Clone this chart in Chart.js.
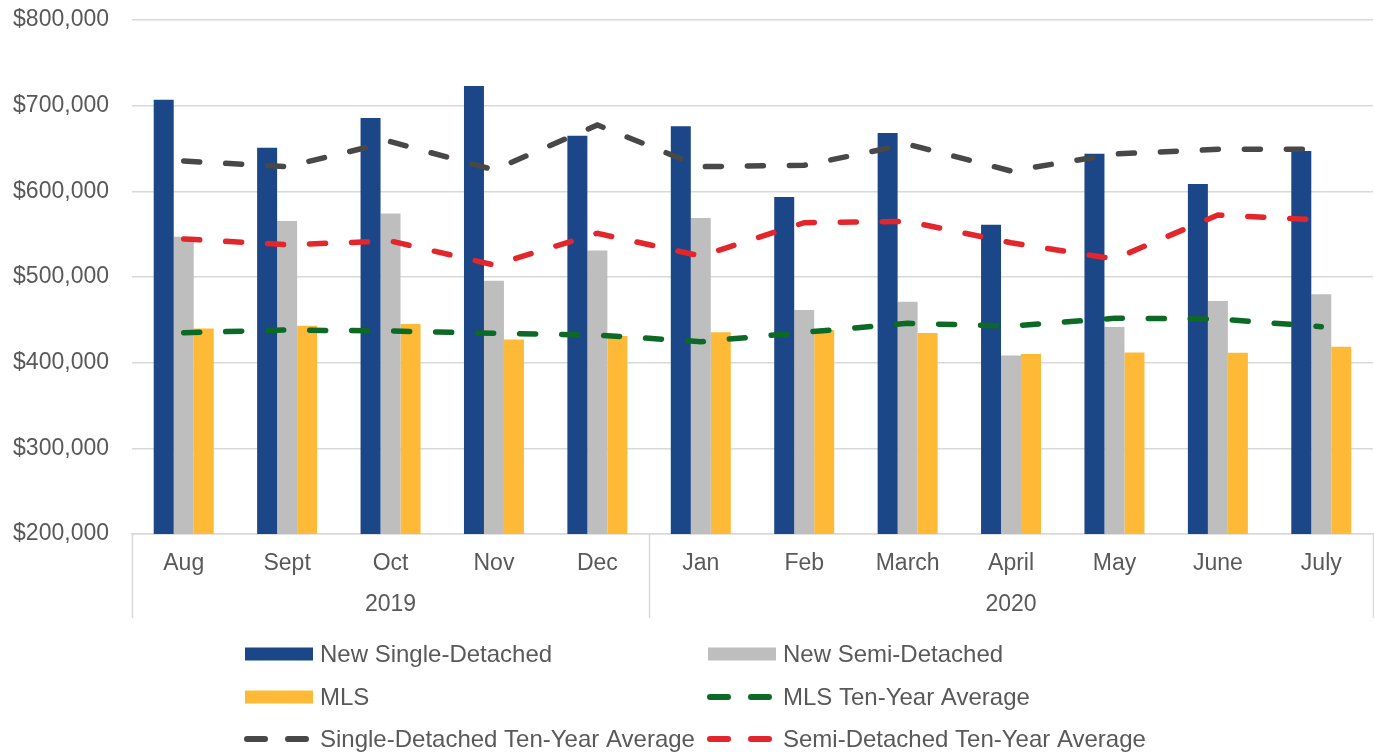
<!DOCTYPE html>
<html>
<head>
<meta charset="utf-8">
<script src="https://cdn.jsdelivr.net/npm/chart.js@4/dist/chart.umd.min.js"></script>
<style>
  html, body { margin: 0; padding: 0; background: #ffffff; }
  #wrap { width: 1374px; height: 752px; position: relative; }
</style>
</head>
<body>
<div id="wrap"><canvas id="c" width="1374" height="752"></canvas></div>
<script>
// ---- Data ----
const months = ['Aug', 'Sept', 'Oct', 'Nov', 'Dec', 'Jan', 'Feb', 'March', 'April', 'May', 'June', 'July'];
const years = ['2019', '2019', '2019', '2019', '2019', '2020', '2020', '2020', '2020', '2020', '2020', '2020'];
const newSingleDetached = [707000, 651000, 685500, 723000, 665000, 676000, 593500, 668000, 561000, 644000, 608500, 647000];
const newSemiDetached = [547000, 565500, 574000, 495500, 531000, 569000, 461500, 471000, 408500, 441500, 472000, 480000];
const mls = [440000, 443000, 445000, 427000, 431000, 435500, 438000, 434500, 410000, 412000, 411500, 418500];
const mlsTenYearAvg = [435000, 438100, 437000, 434300, 432300, 424500, 435400, 445900, 442800, 451800, 451000, 442000];
const singleTenYearAvg = [635400, 628800, 658000, 625000, 677400, 628800, 630400, 655000, 623700, 643600, 649000, 649000];
const semiTenYearAvg = [544400, 537700, 542000, 514000, 551000, 524500, 563400, 565000, 540000, 521000, 572400, 566500];
const yTickValues = [200000, 300000, 400000, 500000, 600000, 700000, 800000];

const FONT = "'Liberation Sans', Arial, sans-serif";
const TEXT = '#595959';
const GRID = '#d9d9d9';

function lineDs(label, data, color) {
  return {
    type: 'line', label, data,
    borderColor: color, backgroundColor: color,
    borderWidth: 5.5, borderDash: [16, 26], borderCapStyle: 'round',
    pointRadius: 0, pointHoverRadius: 0, tension: 0, fill: false, order: 0,
    legendKind: 'dash'
  };
}
function barDs(label, data, color) {
  return {
    type: 'bar', label, data, backgroundColor: color, borderWidth: 0,
    categoryPercentage: 0.58, barPercentage: 1.0, order: 1, legendKind: 'box'
  };
}

const datasets = [
  barDs('New Single-Detached', newSingleDetached, '#1b4688'),
  barDs('New Semi-Detached', newSemiDetached, '#bebebe'),
  barDs('MLS', mls, '#feb936'),
  lineDs('MLS Ten-Year Average', mlsTenYearAvg, '#0c6a26'),
  lineDs('Single-Detached Ten-Year Average', singleTenYearAvg, '#484848'),
  lineDs('Semi-Detached Ten-Year Average', semiTenYearAvg, '#e2262b')
];

// separators + year row below month labels
const yearRowPlugin = {
  id: 'yearRow',
  afterDraw(chart) {
    const xs = chart.scales.x;
    const ctx = chart.ctx;
    const n = months.length;
    const w = (xs.right - xs.left) / n;
    const top = chart.chartArea.bottom;
    const bottom = top + 84;
    ctx.save();
    ctx.strokeStyle = GRID;
    ctx.lineWidth = 1.5;
    let start = 0;
    const groups = [];
    for (let i = 1; i <= n; i++) {
      if (i === n || years[i] !== years[start]) {
        groups.push({ label: years[start], s: start, e: i - 1 });
        start = i;
      }
    }
    const bounds = [xs.getPixelForValue(0) - w / 2];
    groups.forEach(g => bounds.push(xs.getPixelForValue(g.e) + w / 2));
    bounds.forEach(bx => {
      ctx.beginPath();
      ctx.moveTo(Math.round(bx) + 0.5, top);
      ctx.lineTo(Math.round(bx) + 0.5, bottom);
      ctx.stroke();
    });
    ctx.fillStyle = TEXT;
    ctx.font = '23px ' + FONT;
    ctx.textAlign = 'center';
    ctx.textBaseline = 'middle';
    groups.forEach(g => {
      const cx = (xs.getPixelForValue(g.s) + xs.getPixelForValue(g.e)) / 2;
      ctx.fillText(g.label, cx, top + 71);
    });
    ctx.restore();
  }
};

// two-column legend
const legendPlugin = {
  id: 'twoColLegend',
  afterDraw(chart) {
    const ctx = chart.ctx;
    const colX = [245, 708];
    const rowY = [654, 697, 739];
    ctx.save();
    ctx.font = '24px ' + FONT;
    ctx.textBaseline = 'middle';
    ctx.textAlign = 'left';
    chart.data.datasets.forEach((ds, i) => {
      const x = colX[i % 2];
      const y = rowY[Math.floor(i / 2)];
      if (ds.legendKind === 'box') {
        ctx.fillStyle = ds.backgroundColor;
        ctx.fillRect(x, y - 6.5, 68, 13);
      } else {
        ctx.strokeStyle = ds.borderColor;
        ctx.lineWidth = 6;
        ctx.lineCap = 'round';
        ctx.beginPath();
        ctx.moveTo(x + 2, y); ctx.lineTo(x + 20, y);
        ctx.moveTo(x + 43, y); ctx.lineTo(x + 61, y);
        ctx.stroke();
      }
      ctx.fillStyle = TEXT;
      ctx.fillText(ds.label, x + 75, y + 1);
    });
    ctx.restore();
  }
};

new Chart(document.getElementById('c'), {
  data: { labels: months, datasets },
  options: {
    responsive: false,
    animation: false,
    maintainAspectRatio: false,
    layout: { padding: { top: 20, right: 1, bottom: 132, left: 0 } },
    plugins: { legend: { display: false }, tooltip: { enabled: false } },
    scales: {
      x: {
        offset: true,
        grid: { display: false, drawTicks: false },
        border: { display: true, color: GRID, width: 1.5 },
        ticks: { color: TEXT, font: { family: FONT, size: 23 }, padding: 16, maxRotation: 0, autoSkip: false },
        afterFit(s) { s.height = 86; }
      },
      y: {
        min: 200000, max: 800000,
        afterBuildTicks(s) { s.ticks = yTickValues.map(v => ({ value: v })); },
        grid: { color: GRID, lineWidth: 1.5, drawTicks: true, tickLength: 23, tickColor: 'rgba(0,0,0,0)' },
        border: { display: false },
        ticks: {
          color: TEXT, font: { family: FONT, size: 23 }, padding: 0,
          callback: v => '$' + Number(v).toLocaleString('en-US')
        },
        afterFit(s) { s.width = 132; }
      }
    }
  },
  plugins: [yearRowPlugin, legendPlugin]
});
</script>
</body>
</html>
